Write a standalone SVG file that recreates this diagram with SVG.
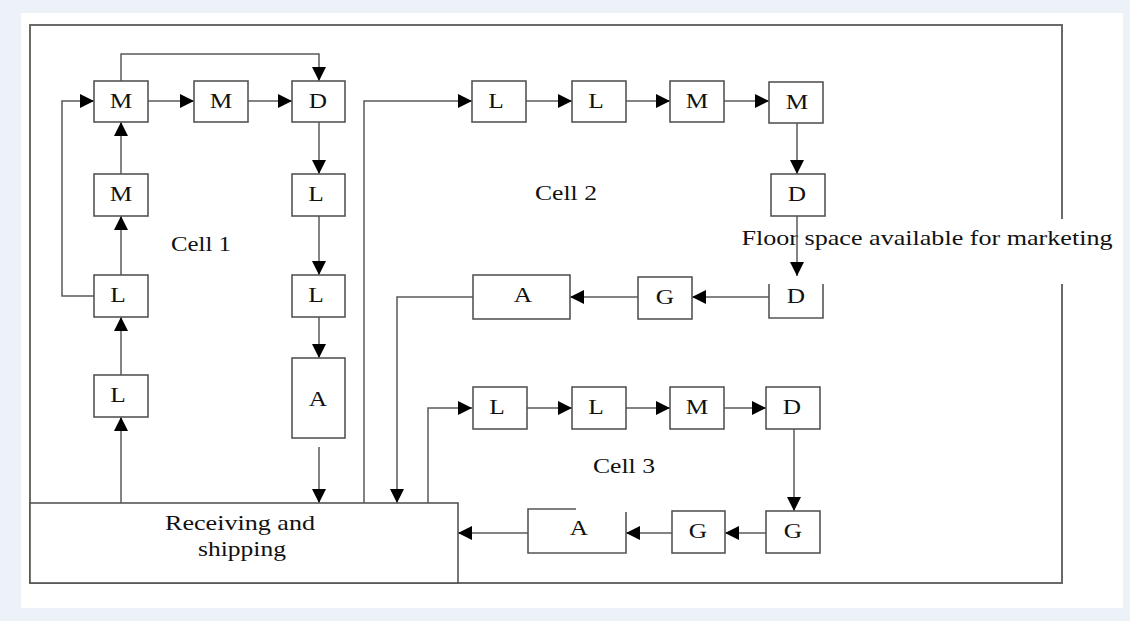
<svg xmlns="http://www.w3.org/2000/svg" width="1130" height="621" viewBox="0 0 1130 621">
<defs>
<style>
.box{fill:#fff;stroke:#555;stroke-width:1.6}
.open{fill:none;stroke:#555;stroke-width:1.6}
.frame{fill:none;stroke:#6a6a6a;stroke-width:2}
.con{fill:none;stroke:#5a5a5a;stroke-width:1.5}
.t{font-family:"Liberation Serif","Times New Roman",serif;font-size:22px;fill:#111;text-anchor:middle}
</style>
<marker id="arr" markerUnits="userSpaceOnUse" markerWidth="14" markerHeight="14" viewBox="0 0 12 12" refX="12" refY="6" orient="auto">
<path d="M0,0 L12,6 L0,12 Z" fill="#000"/>
</marker>
</defs>
<rect x="0" y="0" width="1130" height="621" fill="#edf2f9"/>
<rect x="21" y="13" width="1102" height="595" fill="#fff"/>
<path class="frame" d="M1062,219 V25 H30 V583 H1062 V284"/>
<text class="t" x="927" y="245" textLength="371" lengthAdjust="spacingAndGlyphs">Floor space available for marketing</text>
<text class="t" x="201" y="251" textLength="60" lengthAdjust="spacingAndGlyphs">Cell 1</text>
<text class="t" x="566" y="200" textLength="62" lengthAdjust="spacingAndGlyphs">Cell 2</text>
<text class="t" x="624" y="473" textLength="62" lengthAdjust="spacingAndGlyphs">Cell 3</text>
<g id="connectors">
<path class="con" marker-end="url(#arr)" d="M121,81 V54 H319 V81"/>
<path class="con" marker-end="url(#arr)" d="M148,101 H194"/>
<path class="con" marker-end="url(#arr)" d="M248,101 H292"/>
<path class="con" marker-end="url(#arr)" d="M94,296 H62 V101 H94"/>
<path class="con" marker-end="url(#arr)" d="M121,275 V216"/>
<path class="con" marker-end="url(#arr)" d="M121,174 V122"/>
<path class="con" marker-end="url(#arr)" d="M121,375 V317"/>
<path class="con" marker-end="url(#arr)" d="M121,503 V417"/>
<path class="con" marker-end="url(#arr)" d="M319,122 V174"/>
<path class="con" marker-end="url(#arr)" d="M319,216 V275"/>
<path class="con" marker-end="url(#arr)" d="M319,317 V358"/>
<path class="con" marker-end="url(#arr)" d="M319,447 V503"/>
<path class="con" marker-end="url(#arr)" d="M364,503 V101 H472"/>
<path class="con" marker-end="url(#arr)" d="M526,101 H572"/>
<path class="con" marker-end="url(#arr)" d="M626,101 H670"/>
<path class="con" marker-end="url(#arr)" d="M724,101 H769"/>
<path class="con" marker-end="url(#arr)" d="M797,123 V174"/>
<path class="con" marker-end="url(#arr)" d="M797,216 V276"/>
<path class="con" marker-end="url(#arr)" d="M769,297 H692"/>
<path class="con" marker-end="url(#arr)" d="M638,297 H570"/>
<path class="con" marker-end="url(#arr)" d="M473,297 H397 V503"/>
<path class="con" marker-end="url(#arr)" d="M428,503 V408 H472"/>
<path class="con" marker-end="url(#arr)" d="M527,408 H572"/>
<path class="con" marker-end="url(#arr)" d="M626,408 H670"/>
<path class="con" marker-end="url(#arr)" d="M724,408 H766"/>
<path class="con" marker-end="url(#arr)" d="M794,429 V511"/>
<path class="con" marker-end="url(#arr)" d="M766,533 H725"/>
<path class="con" marker-end="url(#arr)" d="M672,533 H626"/>
<path class="con" marker-end="url(#arr)" d="M528,533 H458"/>
</g>
<g id="recv"><rect class="box" x="30" y="503" width="428" height="80"/><text class="t" x="240" y="530" textLength="150" lengthAdjust="spacingAndGlyphs">Receiving and</text><text class="t" x="242" y="556" textLength="88" lengthAdjust="spacingAndGlyphs">shipping</text></g>
<g id="c1m1"><rect class="box" x="94" y="81" width="54" height="41"/><text class="t" x="121" y="108" textLength="22.5" lengthAdjust="spacingAndGlyphs">M</text></g>
<g id="c1m2"><rect class="box" x="194" y="81" width="54" height="41"/><text class="t" x="221" y="108" textLength="22.5" lengthAdjust="spacingAndGlyphs">M</text></g>
<g id="c1d"><rect class="box" x="292" y="81" width="53" height="41"/><text class="t" x="318" y="108" textLength="18.3" lengthAdjust="spacingAndGlyphs">D</text></g>
<g id="c1m3"><rect class="box" x="94" y="174" width="54" height="42"/><text class="t" x="121" y="201" textLength="22.5" lengthAdjust="spacingAndGlyphs">M</text></g>
<g id="c1l1"><rect class="box" x="94" y="275" width="54" height="42"/><text class="t" x="118" y="302" textLength="15.5" lengthAdjust="spacingAndGlyphs">L</text></g>
<g id="c1l2"><rect class="box" x="94" y="375" width="54" height="42"/><text class="t" x="118" y="402" textLength="15.5" lengthAdjust="spacingAndGlyphs">L</text></g>
<g id="c1l3"><rect class="box" x="292" y="174" width="53" height="42"/><text class="t" x="316" y="201" textLength="15.5" lengthAdjust="spacingAndGlyphs">L</text></g>
<g id="c1l4"><rect class="box" x="292" y="275" width="53" height="42"/><text class="t" x="316" y="302" textLength="15.5" lengthAdjust="spacingAndGlyphs">L</text></g>
<g id="c1a"><rect class="box" x="292" y="358" width="53" height="80"/><text class="t" x="318" y="406" textLength="18.3" lengthAdjust="spacingAndGlyphs">A</text></g>
<g id="c2l1"><rect class="box" x="472" y="81" width="54" height="41"/><text class="t" x="496" y="108" textLength="15.5" lengthAdjust="spacingAndGlyphs">L</text></g>
<g id="c2l2"><rect class="box" x="572" y="81" width="54" height="41"/><text class="t" x="596" y="108" textLength="15.5" lengthAdjust="spacingAndGlyphs">L</text></g>
<g id="c2m1"><rect class="box" x="670" y="81" width="54" height="41"/><text class="t" x="697" y="108" textLength="22.5" lengthAdjust="spacingAndGlyphs">M</text></g>
<g id="c2m2"><rect class="box" x="769" y="82" width="54" height="41"/><text class="t" x="797" y="109" textLength="22.5" lengthAdjust="spacingAndGlyphs">M</text></g>
<g id="c2d1"><rect class="box" x="771" y="174" width="54" height="42"/><text class="t" x="797" y="201" textLength="18.3" lengthAdjust="spacingAndGlyphs">D</text></g>
<g id="c2d2"><path class="open" d="M769,284 V318 H823 V284"/><text class="t" x="796" y="303" textLength="18.3" lengthAdjust="spacingAndGlyphs">D</text></g>
<g id="c2g"><rect class="box" x="638" y="277" width="54" height="42"/><text class="t" x="665" y="304" textLength="18.3" lengthAdjust="spacingAndGlyphs">G</text></g>
<g id="c2a"><rect class="box" x="473" y="275" width="97" height="44"/><text class="t" x="523" y="302" textLength="18.3" lengthAdjust="spacingAndGlyphs">A</text></g>
<g id="c3l1"><rect class="box" x="473" y="387" width="54" height="42"/><text class="t" x="497" y="414" textLength="15.5" lengthAdjust="spacingAndGlyphs">L</text></g>
<g id="c3l2"><rect class="box" x="572" y="387" width="54" height="42"/><text class="t" x="596" y="414" textLength="15.5" lengthAdjust="spacingAndGlyphs">L</text></g>
<g id="c3m"><rect class="box" x="670" y="387" width="54" height="42"/><text class="t" x="697" y="414" textLength="22.5" lengthAdjust="spacingAndGlyphs">M</text></g>
<g id="c3d"><rect class="box" x="766" y="387" width="54" height="42"/><text class="t" x="792" y="414" textLength="18.3" lengthAdjust="spacingAndGlyphs">D</text></g>
<g id="c3g1"><rect class="box" x="766" y="511" width="54" height="42"/><text class="t" x="793" y="538" textLength="18.3" lengthAdjust="spacingAndGlyphs">G</text></g>
<g id="c3g2"><rect class="box" x="672" y="511" width="53" height="42"/><text class="t" x="698" y="538" textLength="18.3" lengthAdjust="spacingAndGlyphs">G</text></g>
<g id="c3a"><path class="open" d="M576,509 H528 V553 H626 V512"/><text class="t" x="579" y="535" textLength="18.3" lengthAdjust="spacingAndGlyphs">A</text></g>
</svg>
